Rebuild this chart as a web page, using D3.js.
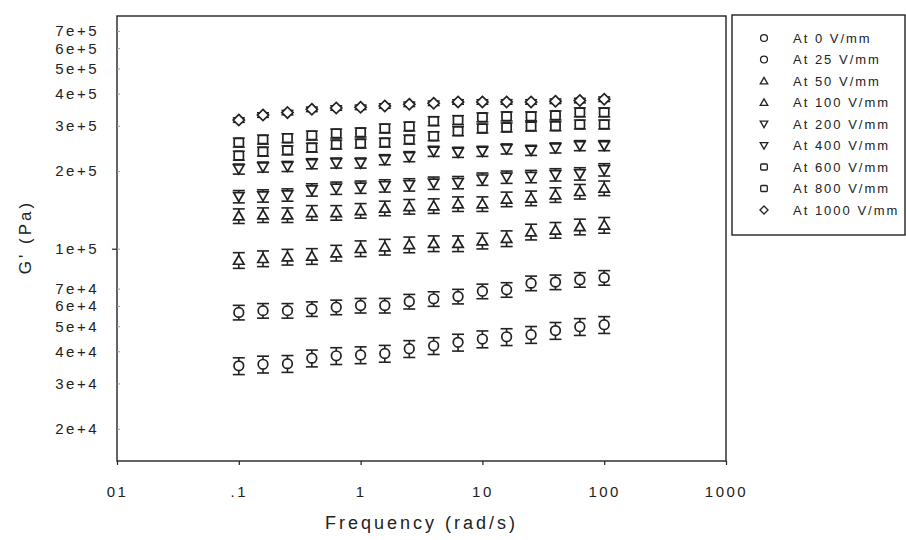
<!DOCTYPE html>
<html>
<head>
<meta charset="utf-8">
<script src="https://cdn.jsdelivr.net/npm/d3@7"></script>
<style>
  html, body { margin: 0; padding: 0; background: #fff; }
  svg { display: block; }
  text { font-family: "Liberation Sans", Arial, sans-serif; fill: #222; }
</style>
</head>
<body>
<svg id="chart" width="906" height="540"></svg>
<script>
// Storage modulus G' versus angular frequency at several electric field strengths
const frequency = [0.1, 0.158, 0.251, 0.398, 0.631, 1, 1.58, 2.51, 3.98, 6.31, 10, 15.8, 25.1, 39.8, 63.1, 100];

const g0    = [35100, 35600, 35800, 37600, 38400, 38700, 39200, 40900, 42000, 43300, 44600, 45500, 46400, 48100, 49800, 50700];
const g25   = [56600, 57500, 57500, 58400, 59300, 60200, 60200, 62400, 63900, 65300, 68400, 69300, 73500, 74200, 75800, 77200];
const g50   = [90200, 91600, 92900, 93500, 96300, 100200, 101600, 103700, 104800, 104800, 107300, 109600, 116300, 118100, 121700, 123500];
const g100  = [134000, 135200, 135200, 138000, 138000, 140500, 143600, 145700, 146600, 149200, 149200, 155700, 157100, 161800, 166700, 171900];
const g200  = [159400, 160400, 161800, 169300, 171900, 173500, 175500, 177100, 179800, 180700, 186400, 189700, 190800, 193700, 195400, 202600];
const g400  = [203900, 207600, 208700, 213900, 215200, 215200, 221700, 227800, 238900, 236800, 238900, 244100, 241000, 246300, 251400, 251400];
const g600  = [229800, 238200, 241000, 246900, 253700, 256000, 258300, 265300, 273400, 285900, 292900, 295600, 298200, 299000, 303600, 303600];
const g800  = [258300, 265300, 268500, 275100, 280100, 282700, 292900, 298200, 312800, 315700, 323500, 326400, 326400, 329300, 338300, 338300];
const g1000 = [315700, 330200, 337400, 347500, 351600, 353800, 358000, 363500, 366900, 371100, 371100, 371100, 371100, 373500, 375800, 380300];

const seriesNames  = ["At 0 V/mm", "At 25 V/mm", "At 50 V/mm", "At 100 V/mm", "At 200 V/mm",
                      "At 400 V/mm", "At 600 V/mm", "At 800 V/mm", "At 1000 V/mm"];
const seriesValues = [g0, g25, g50, g100, g200, g400, g600, g800, g1000];
const seriesShapes = ["circle", "circle", "triUp", "triUp", "triDown", "triDown", "square", "square", "diamond"];
// relative standard deviation of each data set (error bars)
const relError     = [0.075, 0.065, 0.07, 0.065, 0.055, 0.045, 0.04, 0.04, 0.02];

const xTickValues = [0.01, 0.1, 1, 10, 100, 1000];
const xTickLabels = ["01", ".1", "1", "10", "100", "1000"];
const yTickValues = [2e4, 3e4, 4e4, 5e4, 6e4, 7e4, 1e5, 2e5, 3e5, 4e5, 5e5, 6e5, 7e5];
const yTickLabels = ["2e+4", "3e+4", "4e+4", "5e+4", "6e+4", "7e+4", "1e+5",
                     "2e+5", "3e+5", "4e+5", "5e+5", "6e+5", "7e+5"];

const ink = "#222";
const svg = d3.select("#chart");

const plot = { left: 117, right: 726, top: 16, bottom: 461 };

const x = d3.scaleLog().domain([0.01, 1000]).range([plot.left, plot.right]);
const y = d3.scaleLog().domain([1.5e4, 8e5]).range([plot.bottom, plot.top]);

// marker outlines centred on (0,0)
function shapePath(kind, s) {
  const p = d3.path();
  if (kind === "circle") {
    p.arc(0, 0, 4.8 * s, 0, 2 * Math.PI);
  } else if (kind === "triUp") {
    p.moveTo(0, -5 * s); p.lineTo(5.2 * s, 4 * s); p.lineTo(-5.2 * s, 4 * s); p.closePath();
  } else if (kind === "triDown") {
    p.moveTo(-5.2 * s, -4 * s); p.lineTo(5.2 * s, -4 * s); p.lineTo(0, 5 * s); p.closePath();
  } else if (kind === "square") {
    const w = 4.6 * s, h = 4.2 * s, r = 1.4 * s;
    p.moveTo(-w + r, -h); p.lineTo(w - r, -h); p.quadraticCurveTo(w, -h, w, -h + r);
    p.lineTo(w, h - r); p.quadraticCurveTo(w, h, w - r, h);
    p.lineTo(-w + r, h); p.quadraticCurveTo(-w, h, -w, h - r);
    p.lineTo(-w, -h + r); p.quadraticCurveTo(-w, -h, -w + r, -h); p.closePath();
  } else if (kind === "diamond") {
    p.moveTo(0, -5.6 * s); p.lineTo(5.6 * s, 0); p.lineTo(0, 5.6 * s); p.lineTo(-5.6 * s, 0); p.closePath();
  }
  return p.toString();
}

// plot frame
svg.append("rect")
  .attr("x", plot.left).attr("y", plot.top)
  .attr("width", plot.right - plot.left).attr("height", plot.bottom - plot.top)
  .attr("fill", "none").attr("stroke", ink).attr("stroke-width", 1.4);

// x axis
const xAxis = svg.append("g")
  .attr("transform", `translate(0,${plot.bottom})`)
  .call(d3.axisBottom(x).tickValues(xTickValues)
    .tickFormat((d, i) => xTickLabels[i]).tickSize(4).tickPadding(21));
xAxis.select(".domain").remove();
xAxis.selectAll("line").attr("stroke", ink).attr("stroke-width", 1.2);
xAxis.selectAll("text").attr("font-size", 15).attr("letter-spacing", 2.5)
  .attr("font-family", "Liberation Sans, Arial, sans-serif").attr("fill", ink);

// y axis
const yAxis = svg.append("g")
  .attr("transform", `translate(${plot.left},0)`)
  .call(d3.axisLeft(y).tickValues(yTickValues)
    .tickFormat((d, i) => yTickLabels[i]).tickSizeInner(-3).tickSizeOuter(0).tickPadding(18));
yAxis.select(".domain").remove();
yAxis.selectAll("line").attr("stroke", "#999").attr("stroke-width", 1);
yAxis.selectAll("text").attr("font-size", 15).attr("letter-spacing", 2.5)
  .attr("font-family", "Liberation Sans, Arial, sans-serif").attr("fill", ink);

// outward major tick at 1e+5
const yMajor = svg.append("g")
  .attr("transform", `translate(${plot.left},0)`)
  .call(d3.axisLeft(y).tickValues([1e5]).tickFormat("").tickSize(5).tickSizeOuter(0));
yMajor.select(".domain").remove();
yMajor.selectAll("line").attr("stroke", ink).attr("stroke-width", 1.2);

// axis titles
svg.append("text")
  .attr("x", (plot.left + plot.right) / 2).attr("y", 529)
  .attr("text-anchor", "middle").attr("font-size", 18).attr("letter-spacing", 3)
  .text("Frequency (rad/s)");

svg.append("text")
  .attr("transform", "translate(31,237) rotate(-90)")
  .attr("text-anchor", "middle").attr("font-size", 17).attr("letter-spacing", 3)
  .text("G' (Pa)");

// data with error bars
const capHalf = 6;
seriesValues.forEach((vals, si) => {
  const g = svg.append("g");
  const pts = vals.map((v, i) => ({ f: frequency[i], v }));
  const e = relError[si];

  const bars = g.selectAll("g.err").data(pts).join("g").attr("class", "err")
    .attr("stroke", ink).attr("stroke-width", 1.6);
  bars.append("line")
    .attr("x1", d => x(d.f)).attr("x2", d => x(d.f))
    .attr("y1", d => y(d.v * (1 + e))).attr("y2", d => y(d.v * (1 - e)));
  bars.append("line")
    .attr("x1", d => x(d.f) - capHalf).attr("x2", d => x(d.f) + capHalf)
    .attr("y1", d => y(d.v * (1 + e))).attr("y2", d => y(d.v * (1 + e)));
  bars.append("line")
    .attr("x1", d => x(d.f) - capHalf).attr("x2", d => x(d.f) + capHalf)
    .attr("y1", d => y(d.v * (1 - e))).attr("y2", d => y(d.v * (1 - e)));

  g.selectAll("path.mk").data(pts).join("path").attr("class", "mk")
    .attr("transform", d => `translate(${x(d.f)},${y(d.v)})`)
    .attr("d", shapePath(seriesShapes[si], 1))
    .attr("fill", "#fff").attr("stroke", ink).attr("stroke-width", 1.7);
});

// legend
const legend = svg.append("g");
legend.append("rect")
  .attr("x", 732).attr("y", 15).attr("width", 173).attr("height", 220)
  .attr("fill", "#fff").attr("stroke", ink).attr("stroke-width", 1.4);

const rowY = d3.scaleLinear().domain([0, seriesNames.length - 1]).range([38, 210]);
seriesNames.forEach((name, i) => {
  legend.append("path")
    .attr("transform", `translate(764,${rowY(i)})`)
    .attr("d", shapePath(seriesShapes[i], 0.72))
    .attr("fill", "#fff").attr("stroke", ink).attr("stroke-width", 1.3);
  legend.append("text")
    .attr("x", 793).attr("y", rowY(i)).attr("dy", "0.36em")
    .attr("font-size", 13).attr("letter-spacing", 2)
    .text(name);
});
</script>
</body>
</html>
